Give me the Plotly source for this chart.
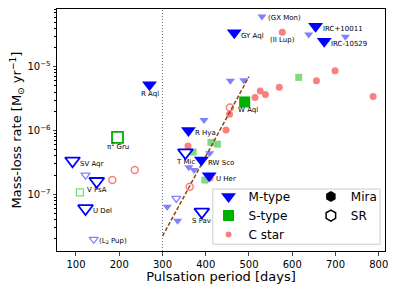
import numpy as np
import plotly.graph_objects as go

# ---------------- data ----------------
# This work: M-type Miras (filled big triangles)
m_mira_names = ["R Aql", "GY Aql", "IRC+10011", "IRC-10529", "R Hya", "RW Sco", "U Her"]
m_mira_period = [270, 466, 654, 674, 360, 390, 408]
m_mira_mdot = [5.2e-6, 3.4e-5, 4.3e-5, 2.5e-5, 1.0e-6, 3.45e-7, 1.95e-7]

# This work: M-type SRs (open big triangles)
m_sr_names = ["SV Aqr", "V PsA", "U Del", "T Mic", "S Pav"]
m_sr_period = [92, 148, 122, 353, 391]
m_sr_mdot = [3.35e-7, 1.6e-7, 6.0e-8, 4.5e-7, 5.3e-8]

# Literature M-type Miras (small filled triangles)
lit_m_mira_names = ["(GX Mon)", "", "", "", "", "", "", "", "", "", ""]
lit_m_mira_period = [530, 638, 723, 457, 488, 396, 361, 373, 409, 311, 335]
lit_m_mira_mdot = [6.1e-5, 3.2e-5, 2.95e-5, 6.0e-6, 6.1e-6, 1.46e-6, 2.65e-7, 2.4e-7, 4.4e-7, 6.4e-8, 3.85e-8]

# Literature M-type SRs (small open triangles)
lit_m_sr_names = ["", "", "(L<sub>2</sub> Pup)"]
lit_m_sr_period = [332, 122, 141]
lit_m_sr_mdot = [8.6e-8, 2.0e-7, 1.97e-8]

# S-type
s_mira_names = ["W Aql"]
s_mira_period = [490]
s_mira_mdot = [2.8e-6]
s_sr_names = ["π<sup>1</sup> Gru"]
s_sr_period = [196]
s_sr_mdot = [7.8e-7]
lit_s_mira_period = [615, 412, 427, 371, 398]
lit_s_mira_mdot = [6.8e-6, 6.5e-7, 6.1e-7, 4.6e-7, 1.67e-7]
lit_s_sr_period = [109]
lit_s_sr_mdot = [1.07e-7]

# Carbon stars
c_mira_names = ["(II Lup)", "", "", "", "", "", "", "", "", "", "", ""]
c_mira_period = [577, 699, 656, 787, 570, 526, 538, 514, 455, 447, 359, 410]
c_mira_mdot = [3.45e-5, 8.6e-6, 6.0e-6, 3.4e-6, 4.75e-6, 4.15e-6, 3.65e-6, 3.3e-6, 1.8e-6, 1.02e-6, 5.7e-7, 1.8e-7]
c_sr_period = [456, 236, 184, 363]
c_sr_mdot = [2.3e-6, 2.4e-7, 1.67e-7, 1.31e-7]

# Period-mass-loss relation (dashed line) and 300-day boundary
fit_period = [300, 500]
fit_mdot = [2.2e-8, 7.0e-6]
boundary_period = 300

x_ticks = [100, 200, 300, 400, 500, 600, 700, 800]
y_ticks = [1e-7, 1e-6, 1e-5]
y_ticklabels = ["10<sup>−7</sup>", "10<sup>−6</sup>", "10<sup>−5</sup>"]
y_minor_ticks = [m * 10.0 ** e for e in range(-8, -3) for m in range(2, 10)]

# ---------------- style ----------------
BLUE = "#0000ff"
LBLUE = "#8080ff"
GREEN = "#00b000"
LGREEN = "#80d880"
PINK = "#f88080"
FONT = "DejaVu Sans"

# label placement: (xanchor, xshift, yshift)
label_pos = {
    "R Aql": ("center", 0, -9), "GY Aql": ("left", 5, -3), "IRC+10011": ("left", 5, -3),
    "IRC-10529": ("left", 5, -3), "R Hya": ("left", 5, -3), "RW Sco": ("left", 5, -3),
    "U Her": ("left", 5, -3), "SV Aqr": ("left", 5, -3), "V PsA": ("center", 0, -9),
    "U Del": ("left", 5, -3), "T Mic": ("center", 0, -9), "S Pav": ("center", 0, -9),
    "(GX Mon)": ("left", 4, -1), "(L<sub>2</sub> Pup)": ("left", 3, -2),
    "W Aql": ("left", -9, -8), "π<sup>1</sup> Gru": ("center", 0, -9), "(II Lup)": ("center", 0, -8),
}

fig = go.Figure()

def add(x, y, symbol, size, color, open_=False, lw=1.5):
    if open_:
        marker = dict(symbol=symbol, size=size, color=color,
                      line=dict(color=color, width=lw))
    else:
        marker = dict(symbol=symbol, size=size, color=color, line=dict(width=0))
    fig.add_trace(go.Scatter(x=x, y=y, mode="markers", marker=marker,
                             showlegend=False, hoverinfo="skip"))

# literature (small) first
add(lit_m_mira_period, lit_m_mira_mdot, "triangle-down", 8, LBLUE)
add(lit_m_sr_period, lit_m_sr_mdot, "triangle-down-open", 8, LBLUE, True, 1.3)
add(lit_s_mira_period, lit_s_mira_mdot, "square", 7, LGREEN)
add(lit_s_sr_period, lit_s_sr_mdot, "square-open", 7, LGREEN, True, 1.3)
add(c_mira_period, c_mira_mdot, "circle", 7, PINK)
add(c_sr_period, c_sr_mdot, "circle-open", 7, PINK, True, 1.5)

# dashed fit and dotted boundary
fig.add_trace(go.Scatter(x=fit_period, y=fit_mdot, mode="lines",
                         line=dict(color="#8b4513", width=1.5, dash="4px,2px"),
                         showlegend=False, hoverinfo="skip"))
fig.add_vline(x=boundary_period, line=dict(color="#777777", width=1, dash="1px,2px"))

# this work (big)
add(s_mira_period, s_mira_mdot, "square", 11, GREEN)
add(s_sr_period, s_sr_mdot, "square-open", 11, GREEN, True, 1.8)
add(m_sr_period, m_sr_mdot, "triangle-down-open", 13, BLUE, True, 1.8)
add(m_mira_period, m_mira_mdot, "triangle-down", 13, BLUE)

# labels
for names, px, py in [(m_mira_names, m_mira_period, m_mira_mdot),
                      (m_sr_names, m_sr_period, m_sr_mdot),
                      (lit_m_mira_names, lit_m_mira_period, lit_m_mira_mdot),
                      (lit_m_sr_names, lit_m_sr_period, lit_m_sr_mdot),
                      (s_mira_names, s_mira_period, s_mira_mdot),
                      (s_sr_names, s_sr_period, s_sr_mdot),
                      (c_mira_names, c_mira_period, c_mira_mdot)]:
    for n, xv, yv in zip(names, px, py):
        if not n:
            continue
        xa, xs, ys = label_pos[n]
        fig.add_annotation(x=xv, y=np.log10(yv), text=n, showarrow=False,
                           xanchor=xa, yanchor="middle", xshift=xs, yshift=ys,
                           font=dict(family=FONT, size=7, color="black"))

# legend entries
def leg(name, marker, legend):
    fig.add_trace(go.Scatter(x=[None], y=[None], mode="markers", name=name,
                             marker=marker, legend=legend, showlegend=True))

leg("M-type", dict(symbol="triangle-down", size=13, color=BLUE), "legend")
leg("S-type", dict(symbol="square", size=11, color=GREEN), "legend")
leg("C star", dict(symbol="circle", size=6, color=PINK), "legend")
leg("Mira", dict(symbol="hexagon", size=11, color="black"), "legend2")
leg("SR", dict(symbol="hexagon-open", size=11, color="black", line=dict(width=1.5)), "legend2")

# legend frame
fig.add_shape(type="rect", xref="paper", yref="paper", x0=0.475, x1=0.985, y0=0.028, y1=0.256,
              line=dict(color="#cccccc", width=1), fillcolor="rgba(255,255,255,0.85)", layer="above")

legfont = dict(family=FONT, size=12, color="black")
yrange = [-7.889, -4.096]

fig.update_layout(
    width=388, height=283,
    margin=dict(l=49, r=11, t=1, b=40, pad=0, autoexpand=False),
    paper_bgcolor="white", plot_bgcolor="white",
    font=dict(family=FONT, size=10, color="black"),
    legend=dict(x=0.462, y=0.285, xanchor="left", yanchor="top", bgcolor="rgba(0,0,0,0)",
                font=legfont, tracegroupgap=0, itemsizing="trace"),
    legend2=dict(x=0.774, y=0.285, xanchor="left", yanchor="top", bgcolor="rgba(0,0,0,0)",
                 font=legfont, tracegroupgap=0, itemsizing="trace"),
    xaxis=dict(range=[56.1, 814.5], tickvals=x_ticks, ticks="outside", ticklen=3.5,
               showline=True, linecolor="black", linewidth=1, mirror=True, showgrid=False,
               zeroline=False, tickfont=dict(size=10), automargin=False,
               title=dict(text="Pulsation period [days]", font=dict(size=13), standoff=2)),
    yaxis=dict(type="log", range=yrange,
               tickvals=y_ticks, ticktext=y_ticklabels, ticks="outside", ticklen=3.5,
               showline=True, linecolor="black", linewidth=1, mirror=True, showgrid=False,
               zeroline=False, tickfont=dict(size=10), automargin=False,
               title=dict(text="Mass-loss rate [M<sub>⊙</sub> yr<sup>−1</sup>]",
                          font=dict(size=13), standoff=2)),
    yaxis2=dict(type="log", range=yrange, overlaying="y", side="left", anchor="x",
                tickvals=y_minor_ticks, ticktext=[""] * len(y_minor_ticks),
                ticks="outside", ticklen=2, tickcolor="black", showgrid=False,
                showline=False, zeroline=False, automargin=False),
)
# invisible trace to activate the minor tick axis
fig.add_trace(go.Scatter(x=[None], y=[None], yaxis="y2", showlegend=False, hoverinfo="skip"))

fig.write_html("out.html")
